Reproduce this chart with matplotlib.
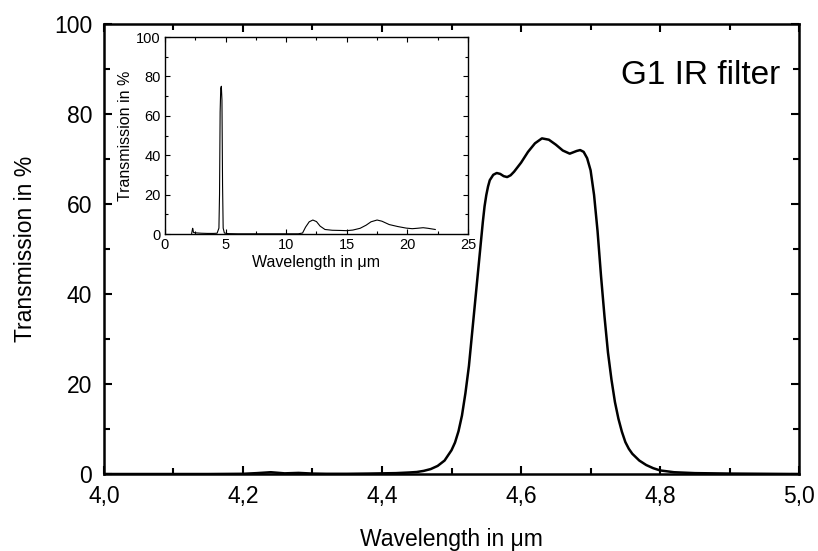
import matplotlib
matplotlib.use("Agg")
import matplotlib.pyplot as plt

plt.rcParams['font.family'] = ['Liberation Sans', 'DejaVu Sans']

# main curve
main_wl = [4.00, 4.05, 4.10, 4.15, 4.20, 4.22, 4.24, 4.26, 4.28, 4.30, 4.32, 4.35,
           4.38, 4.40, 4.42, 4.44, 4.45, 4.46, 4.47, 4.48, 4.49, 4.50, 4.505, 4.51,
           4.515, 4.52, 4.525, 4.53, 4.535, 4.54, 4.545, 4.5475, 4.55, 4.5525, 4.555,
           4.56, 4.565, 4.57, 4.575, 4.58, 4.585, 4.59, 4.60, 4.61, 4.62, 4.63, 4.64,
           4.65, 4.66, 4.67, 4.68, 4.685, 4.69, 4.695, 4.70, 4.705, 4.71, 4.715, 4.72,
           4.725, 4.73, 4.735, 4.74, 4.745, 4.75, 4.755, 4.76, 4.77, 4.78, 4.79, 4.80,
           4.82, 4.85, 4.90, 4.95, 5.00]
main_tr = [0.0, 0.0, 0.0, 0.0, 0.05, 0.2, 0.4, 0.15, 0.25, 0.1, 0.05, 0.05,
           0.1, 0.15, 0.2, 0.35, 0.45, 0.7, 1.1, 1.8, 3.0, 5.3, 7.0, 9.5,
           13, 18, 24, 32, 40, 48, 56, 59.5, 62, 63.9, 65.3,
           66.5, 66.9, 66.7, 66.2, 66.0, 66.4, 67.2, 69.2, 71.6, 73.5, 74.6, 74.3,
           73.2, 71.9, 71.2, 71.8, 72.0, 71.6, 70.2, 67.5, 62, 54, 44, 35,
           27, 21, 16, 12.3, 9.4, 7.1, 5.6, 4.5, 3.0, 2.0, 1.3, 0.8,
           0.4, 0.2, 0.1, 0.05, 0.0]

# inset, full range
inset_wl = [2.2, 2.28, 2.3, 2.35, 2.5, 3.0, 3.5, 4.0, 4.3, 4.45, 4.5, 4.55, 4.6,
            4.65, 4.7, 4.75, 4.8, 4.9, 5.2, 6, 8, 10, 11.0, 11.35, 11.6, 11.9,
            12.2, 12.5, 12.8, 13.2, 13.8, 14.5, 15.0, 15.5, 16.1, 16.6, 17.0, 17.5,
            17.9, 18.5, 19.2, 19.9, 20.4, 20.8, 21.3, 21.7, 22.1, 22.3]
inset_tr = [0.3, 2.9, 2.6, 0.8, 0.6, 0.4, 0.3, 0.3, 0.4, 3, 20, 62, 74,
            75, 68, 25, 3, 0.5, 0.2, 0.1, 0.1, 0.1, 0.1, 0.5, 3.5, 6.2,
            7.1, 6.3, 4.0, 2.3, 1.9, 1.8, 1.7, 2.0, 2.9, 4.5, 6.2, 7.1,
            6.5, 4.8, 3.8, 3.0, 2.7, 2.9, 3.2, 2.9, 2.5, 2.3]

x_ticks = [4.0, 4.2, 4.4, 4.6, 4.8, 5.0]
x_ticklabels = ['4,0', '4,2', '4,4', '4,6', '4,8', '5,0']
y_ticks = [0, 20, 40, 60, 80, 100]
inset_xticks = [0, 5, 10, 15, 20, 25]

fig = plt.figure(figsize=(8.18, 5.51), dpi=100)
ax = fig.add_axes([0.127, 0.1397, 0.850, 0.8166])
ax.plot(main_wl, main_tr, color='black', lw=1.8)
ax.set_xlim(4.0, 5.0)
ax.set_ylim(0, 100)
ax.set_xticks(x_ticks)
ax.set_xticklabels(x_ticklabels)
ax.set_xticks([4.1, 4.3, 4.5, 4.7, 4.9], minor=True)
ax.set_yticks(y_ticks)
ax.set_yticks([10, 30, 50, 70, 90], minor=True)
ax.tick_params(which='both', direction='in', top=True, right=True, width=1.5,
               labelsize=16.5)
ax.tick_params(which='major', length=6)
ax.tick_params(which='minor', length=4)
ax.tick_params(axis='y', pad=8.5)
ax.tick_params(axis='x', pad=8)
for s in ax.spines.values():
    s.set_linewidth(1.8)
ax.set_xlabel('Wavelength in \u03bcm', fontsize=16.5, labelpad=14)
ax.set_ylabel('Transmission in %', fontsize=16.5, labelpad=12)
ax.text(4.973, 88.5, 'G1 IR filter', fontsize=24, ha='right', va='center')

ins = fig.add_axes([0.2017, 0.5753, 0.3704, 0.3575])
ins.plot(inset_wl, inset_tr, color='black', lw=0.8)
ins.set_xlim(0, 25)
ins.set_ylim(0, 100)
ins.set_xticks(inset_xticks)
ins.set_xticks([2.5, 7.5, 12.5, 17.5, 22.5], minor=True)
ins.set_yticks(y_ticks)
ins.set_yticks([10, 30, 50, 70, 90], minor=True)
ins.tick_params(which='both', direction='in', top=True, right=True, width=0.8,
                labelsize=10.5, pad=3)
ins.tick_params(which='major', length=3.5)
ins.tick_params(which='minor', length=2.5)
for s in ins.spines.values():
    s.set_linewidth(1.0)
ins.set_xlabel('Wavelength in \u03bcm', fontsize=11.5, labelpad=2)
ins.set_ylabel('Transmission in %', fontsize=11.5, labelpad=2)

fig.savefig('out.png', dpi=100)
